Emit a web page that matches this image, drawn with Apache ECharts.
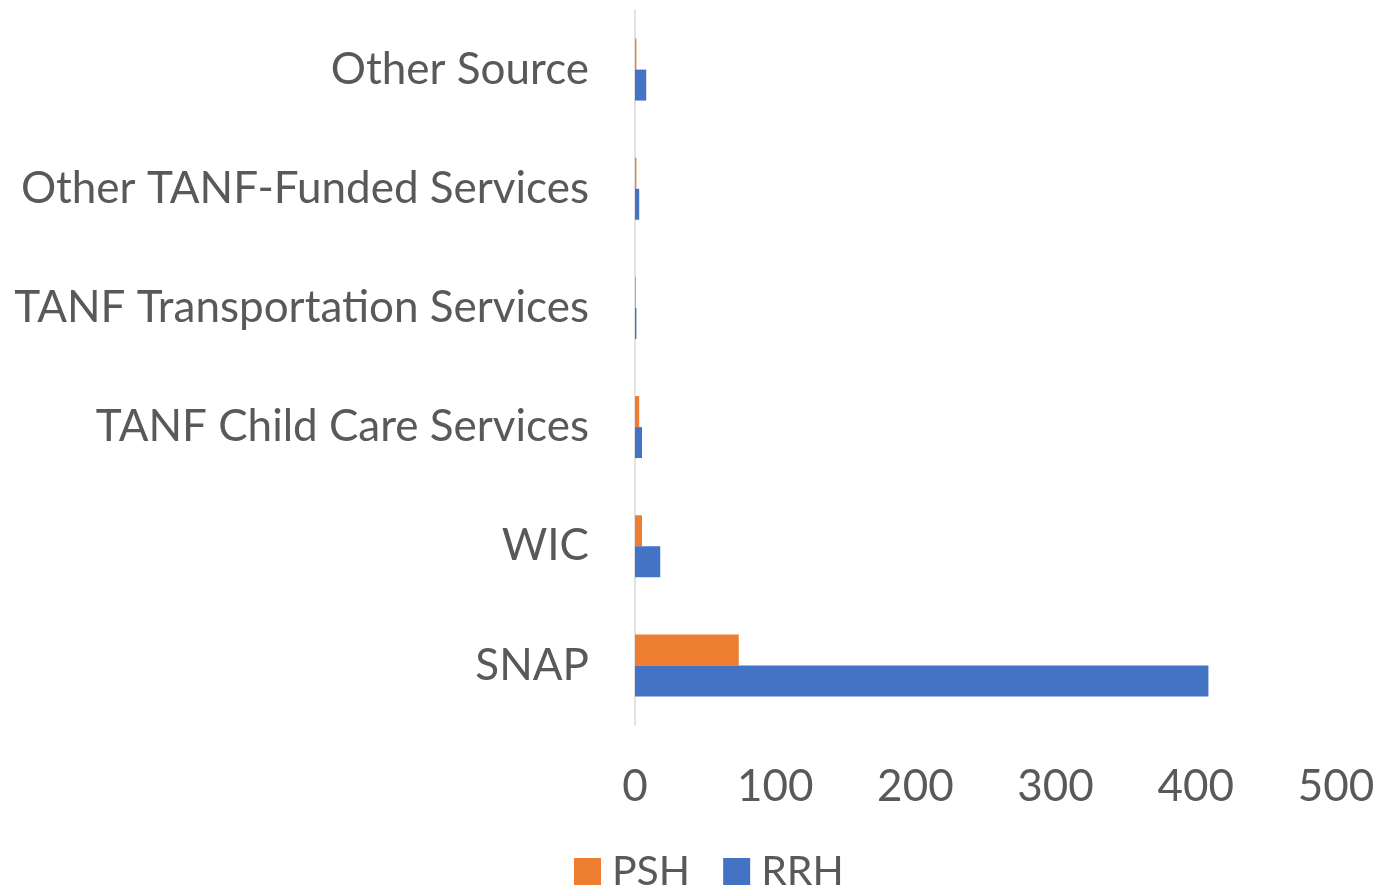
<!DOCTYPE html>
<html><head><meta charset="utf-8">
<script src="https://cdn.jsdelivr.net/npm/echarts@6/dist/echarts.min.js"></script>
<style>html,body{margin:0;padding:0;background:#fff}#c{width:1378px;height:886px}</style>
</head><body><div id="c"></div>
<script>
const categories = ['SNAP', 'WIC', 'TANF Child Care Services', 'TANF Transportation Services', 'Other TANF-Funded Services', 'Other Source'];
const psh = [74, 5, 3, 0.5, 1, 1];
const rrh = [409, 18, 5, 1, 3, 8];
const xTicks = [0, 100, 200, 300, 400, 500];

const chart = echarts.init(document.getElementById('c'));
const font = 'Lato, "Open Sans", sans-serif';
chart.setOption({
  animation: false,
  grid: { left: 635, right: 42, top: 10, bottom: 161, containLabel: false },
  legend: {
    data: ['PSH', 'RRH'], top: 846, left: 569,
    itemWidth: 27, itemHeight: 27, itemGap: 33,
    textStyle: { fontSize: 41, color: '#595959', fontFamily: font, padding: [0, 0, 0, 6] },
    icon: 'rect'
  },
  xAxis: {
    type: 'value', min: xTicks[0], max: xTicks[xTicks.length - 1], interval: 100,
    axisLine: { show: false }, axisTick: { show: false }, splitLine: { show: false },
    axisLabel: { fontSize: 44, color: '#595959', fontFamily: font, margin: 40 }
  },
  yAxis: {
    type: 'category', data: categories,
    axisLine: { show: true, lineStyle: { color: '#D9D9D9', width: 1.5 } },
    axisTick: { show: false },
    axisLabel: { fontSize: 44, color: '#595959', fontFamily: font, margin: 46 }
  },
  series: [
    { name: 'PSH', type: 'bar', data: psh, itemStyle: { color: '#ED7D31' }, barGap: '0%', barCategoryGap: '48%' },
    { name: 'RRH', type: 'bar', data: rrh, itemStyle: { color: '#4472C4' }, barGap: '0%', barCategoryGap: '48%' }
  ]
});
</script></body></html>
